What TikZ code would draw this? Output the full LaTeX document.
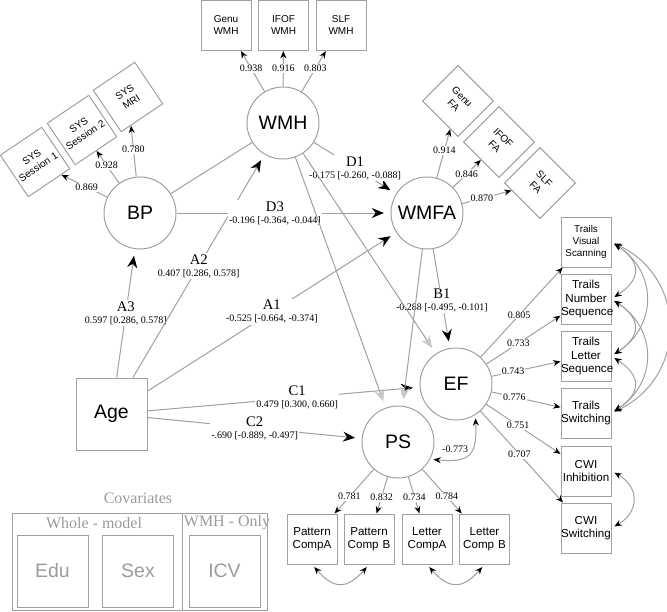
\documentclass[tikz,border=0pt]{standalone}
\usepackage{fontspec}
\setmainfont{Liberation Serif}
\setsansfont{Liberation Sans}
\usetikzlibrary{arrows.meta}

\definecolor{edgegray}{RGB}{160,160,160}
\definecolor{tipgray}{RGB}{200,200,200}
\definecolor{covgray}{RGB}{155,155,155}

\newcommand{\cinum}[1]{{\fontsize{7.5}{8}\selectfont #1}}

\tikzset{every picture/.style={line width=0.75pt}}
\tikzset{
  latent/.style={circle, draw=edgegray, minimum size=54pt, inner sep=0pt,
    font=\sffamily\fontsize{14.6}{16}\selectfont},
  agebox/.style={rectangle, draw=edgegray, minimum width=53.25pt, minimum height=54pt,
    inner sep=0pt, font=\sffamily\fontsize{14.6}{16}\selectfont},
  obs/.style={rectangle, draw=edgegray, minimum size=37.5pt, inner sep=0pt,
    text width=37.5pt, align=center, font=\sffamily\fontsize{7.5}{9}\selectfont},
  obsbig/.style={obs, font=\sffamily\fontsize{8.7}{9.8}\selectfont},
  regpath/.style={draw=edgegray, -{Stealth[length=9pt,width=7.5pt,black]}, shorten >=5pt},
  greypath/.style={draw=edgegray, -{Stealth[length=9pt,width=7.5pt,tipgray]}, shorten >=5pt},
  loadpath/.style={draw=edgegray, -{Stealth[length=5.5pt,width=4.5pt,black]}},
  covpath/.style={draw=edgegray, {Stealth[length=5.5pt,width=4.5pt,black]}-{Stealth[length=5.5pt,width=4.5pt,black]},
    shorten <=2.5pt, shorten >=2.5pt},
  coef/.style={fill=white, inner sep=1pt, align=center, font=\fontsize{11}{11}\selectfont},
  load/.style={fill=white, inner sep=0.8pt, font=\fontsize{7.5}{8}\selectfont},
  covbox/.style={rectangle, draw=edgegray, text=covgray, minimum width=53.25pt, minimum height=54pt,
    inner sep=0pt, font=\sffamily\fontsize{14.6}{16}\selectfont},
  covtitle/.style={text=covgray, inner sep=0pt, font=\fontsize{12}{12}\selectfont}
}

\begin{document}
\begin{tikzpicture}[x=0.75pt,y=0.75pt,yscale=-1,xscale=1]
	\useasboundingbox (0,0) rectangle (667,611);

	% Latent variables
	\node[latent] (wmh) at (283,123) {WMH};
	\node[latent] (bp) at (140,213) {BP};
	\node[latent] (wmfa) at (427,213) {WMFA};
	\node[latent] (ef) at (456,384) {EF};
	\node[latent] (ps) at (398,442) {PS};
	\node[agebox] (age) at (111.5,414) {Age};

	% WMH indicators
	\node[obs] (genuwmh) at (226,25.5) {Genu\\WMH};
	\node[obs] (ifofwmh) at (283.5,25.5) {IFOF\\WMH};
	\node[obs] (slfwmh) at (341,25.5) {SLF\\WMH};
	% BP indicators
	\node[obs, rotate=34] (sys1) at (35,162) {SYS\\Session 1};
	\node[obs, rotate=34] (sys2) at (82,130) {SYS\\Session 2};
	\node[obs, rotate=34] (sysmri) at (128,97) {SYS\\MRI};
	% WMFA indicators
	\node[obs, rotate=-45] (genufa) at (458,101) {Genu\\FA};
	\node[obs, rotate=-45] (ifoffa) at (499,142) {IFOF\\FA};
	\node[obs, rotate=-45] (slffa) at (540,183) {SLF\\FA};
	% EF indicators
	\node[obs, font=\sffamily\fontsize{7.4}{9}\selectfont] (tvs) at (586,242) {Trails\\Visual\\Scanning};
	\node[obsbig] (tns) at (586,299) {Trails\\Number\\Sequence};
	\node[obsbig] (tls) at (586,356) {Trails\\Letter\\Sequence};
	\node[obsbig] (tsw) at (586,413) {Trails\\Switching};
	\node[obsbig] (cwiinh) at (586,471) {CWI\\Inhibition};
	\node[obsbig] (cwisw) at (586,528) {CWI\\Switching};
	% PS indicators
	\node[obsbig] (patca) at (312,539) {Pattern\\CompA};
	\node[obsbig] (patcb) at (369,539) {Pattern\\Comp B};
	\node[obsbig] (letca) at (427,539) {Letter\\CompA};
	\node[obsbig] (letcb) at (484.5,539) {Letter\\Comp B};

	% Structural paths
	\draw[draw=edgegray] (bp) -- (wmh);
	\draw[regpath] (age) -- node[coef]{A3\\[-2pt]\cinum{0.597 [0.286, 0.578]}} (bp);
	\draw[regpath] (age) -- node[coef]{A2\\[-2pt]\cinum{0.407 [0.286, 0.578]}} (wmh);
	\draw[regpath] (age) -- node[coef]{A1\\[-2pt]\cinum{-0.525 [-0.664, -0.374]}} (wmfa);
	\draw[regpath] (age) -- node[coef, pos=0.55]{C1\\[-2pt]\cinum{0.479 [0.300, 0.660]}} (ef);
	\draw[regpath] (age) -- node[coef]{C2\\[-2pt]\cinum{-.690 [-0.889, -0.497]}} (ps);
	\draw[regpath] (bp) -- node[coef, pos=0.46]{D3\\[-2pt]\cinum{-0.196 [-0.364, -0.044]}} (wmfa);
	\draw[regpath] (wmh) -- node[coef]{D1\\[-2pt]\cinum{-0.175 [-0.260, -0.088]}} (wmfa);
	\draw[regpath] (wmfa) -- node[coef, pos=0.52]{B1\\[-2pt]\cinum{-0.288 [-0.495, -0.101]}} (ef);
	\draw[greypath] (wmh) -- (ps);
	\draw[greypath] (wmh) -- (ef);
	\draw[greypath] (wmfa) -- (ps);

	% Loadings
	\draw[loadpath] (wmh) -- node[load, pos=0.57]{0.938} (genuwmh);
	\draw[loadpath] (wmh) -- node[load, pos=0.51]{0.916} (ifofwmh);
	\draw[loadpath] (wmh) -- node[load, pos=0.57]{0.803} (slfwmh);
	\draw[loadpath] (bp) -- node[load, pos=0.45]{0.869} (sys1);
	\draw[loadpath] (bp) -- node[load, pos=0.56]{0.928} (sys2);
	\draw[loadpath] (bp) -- node[load, pos=0.54]{0.780} (sysmri);
	\draw[loadpath] (wmfa) -- node[load, pos=0.56]{0.914} (genufa);
	\draw[loadpath] (wmfa) -- node[load, pos=0.49]{0.846} (ifoffa);
	\draw[loadpath] (wmfa) -- node[load, pos=0.40]{0.870} (slffa);
	\draw[loadpath] (ef) -- node[load, pos=0.47]{0.805} (tvs);
	\draw[loadpath] (ef) -- node[load, pos=0.43]{0.733} (tns);
	\draw[loadpath] (ef) -- node[load, pos=0.31]{0.743} (tls);
	\draw[loadpath] (ef) -- node[load, pos=0.33]{0.776} (tsw);
	\draw[loadpath] (ef) -- node[load, pos=0.43]{0.751} (cwiinh);
	\draw[loadpath] (ef) -- node[load, pos=0.47]{0.707} (cwisw);
	\draw[loadpath] (ps) -- node[load, pos=0.62]{0.781} (patca);
	\draw[loadpath] (ps) -- node[load, pos=0.55]{0.832} (patcb);
	\draw[loadpath] (ps) -- node[load, pos=0.55]{0.734} (letca);
	\draw[loadpath] (ps) -- node[load, pos=0.62]{0.784} (letcb);

	% Covariances
	\draw[covpath] (tvs.east) .. controls +(30,20) and +(30,-20) .. (tns.east);
	\draw[covpath] (tvs.east) .. controls +(46,30) and +(46,-30) .. (tls.east);
	\draw[covpath] (tvs.east) .. controls +(76,36) and +(76,-36) .. (tsw.east);
	\draw[covpath] (tns.east) .. controls +(30,20) and +(30,-20) .. (tls.east);
	\draw[covpath] (tns.east) .. controls +(46,30) and +(46,-30) .. (tsw.east);
	\draw[covpath] (tls.east) .. controls +(30,20) and +(30,-20) .. (tsw.east);
	\draw[covpath] (cwiinh.east) .. controls +(28,16) and +(28,-16) .. (cwisw.east);
	\draw[covpath] (patca.south) .. controls +(22,25) and +(-22,25) .. (patcb.south);
	\draw[covpath] (letca.south) .. controls +(22,25) and +(-22,25) .. (letcb.south);
	\draw[covpath] (ps.-28) .. controls +(40,4) and +(2,40) .. node[pos=0.5, above left, inner sep=0pt, font=\fontsize{7.5}{8}\selectfont]{-0.773} (ef.-58);

	% Covariates
	\node[covtitle] (covlbl) at (138,498) {Covariates};
	\draw[draw=edgegray] (12,513) rectangle (267,610);
	\draw[draw=edgegray] (182,513) -- (182,610);
	\node[covtitle] (wholelbl) at (94,523) {Whole - model};
	\node[covtitle] (onlylbl) at (227,523) {WMH - Only};
	\node[covbox] (edu) at (52.5,571) {Edu};
	\node[covbox] (sex) at (138,571) {Sex};
	\node[covbox] (icv) at (224.5,571) {ICV};

\end{tikzpicture}
\end{document}
